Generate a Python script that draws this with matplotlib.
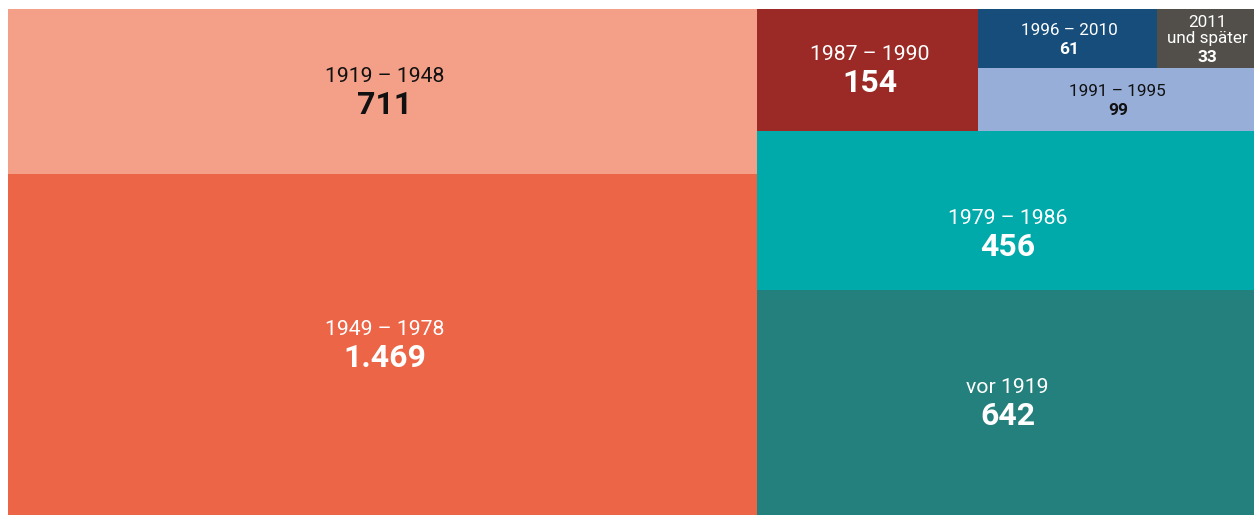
import numpy as np
import matplotlib
matplotlib.use('Agg')
import matplotlib.pyplot as plt
from matplotlib.patches import Rectangle
from matplotlib.transforms import offset_copy

plt.rcParams['font.family'] = ['Roboto', 'DejaVu Sans']

# Data
labels = ['1919 – 1948', '1949 – 1978', '1987 – 1990', '1996 – 2010',
          '2011\nund später', '1991 – 1995', '1979 – 1986', 'vor 1919']
values = [711, 1469, 154, 61, 33, 99, 456, 642]
value_text = ['711', '1.469', '154', '61', '33', '99', '456', '642']
colors = ['#f4a088', '#ec6547', '#9b2a26', '#174d7a',
          '#524f4a', '#96aed8', '#00aaaa', '#23807c']
text_colors = ['#111111', 'white', 'white', 'white',
               'white', '#111111', 'white', 'white']

# nesting of the treemap: 'h' = side by side, 'v' = stacked
tree = ('h', [('v', [0, 1]),
              ('v', [('h', [2, ('v', [('h', [3, 4]), 5])]), 6, 7])])

# label nudges (pixels, downwards) seen in the original
label_nudge = {'1979 – 1986': 24}


def node_sum(node):
    if isinstance(node, int):
        return values[node]
    return sum(node_sum(c) for c in node[1])


def layout(node, x, y, w, h, out):
    if isinstance(node, int):
        out[node] = (x, y, w, h)
        return
    direction, children = node
    total = node_sum(node)
    pos = 0.0
    for c in children:
        frac = node_sum(c) / total
        if direction == 'h':
            layout(c, x + pos * w, y, w * frac, h, out)
        else:
            layout(c, x, y + pos * h, w, h * frac, out)
        pos += frac


W, H = 1246, 506
rects = {}
layout(tree, 0, 0, W, H, rects)

fig = plt.figure(figsize=(12.54, 5.15), dpi=100)
ax = fig.add_axes([8 / 1254, 0, W / 1254, H / 515])
ax.set_xlim(0, W)
ax.set_ylim(H, 0)
ax.axis('off')

for i in range(len(values)):
    x, y, w, h = rects[i]
    ax.add_patch(Rectangle((x, y), w, h, facecolor=colors[i], edgecolor='none'))
    cx, cy = x + w / 2, y + h / 2
    big = values[i] >= 150
    lines = labels[i].split('\n')
    if big:
        lsize, vsize, pitch, gap = 15.3, 23, 20, 32
    else:
        lsize, vsize, pitch, gap = 12.3, 12.5, 16, 19
    offs = [k * pitch for k in range(len(lines))]
    offs.append(offs[-1] + gap)
    mid = (offs[0] + offs[-1]) / 2
    nudge = label_nudge.get(labels[i], 0)
    for k, t in enumerate(lines + [value_text[i]]):
        dy = offs[k] - mid + 6 + nudge
        tr = offset_copy(ax.transData, fig=fig, x=2, y=-dy, units='dots')
        is_val = k == len(lines)
        ax.text(cx, cy, t, transform=tr, ha='center', va='baseline',
                color=text_colors[i],
                fontsize=vsize if is_val else lsize,
                fontweight='bold' if is_val else 'normal')

fig.savefig('out.png', dpi=100)
